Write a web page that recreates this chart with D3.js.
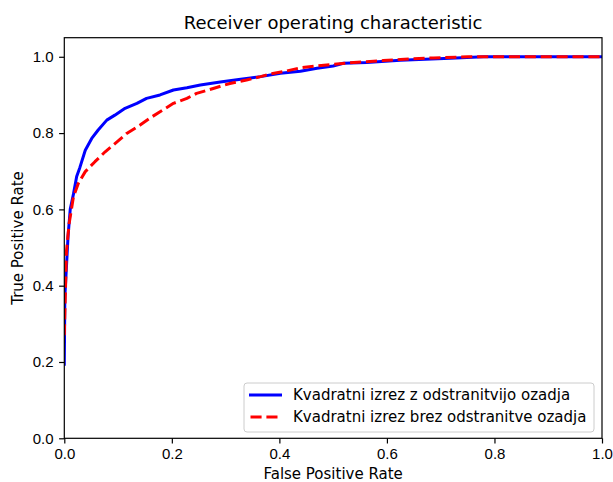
<!DOCTYPE html>
<meta charset="utf-8">
<style>

body {
  margin: 0;
  background: #fff;
}

svg {
  font-family: "DejaVu Sans", sans-serif;
}

.axis path,
.axis line {
  fill: none;
  stroke: #000;
  stroke-width: 1.2px;
}

.axis text {
  font-size: 15px;
  fill: #000;
}

.curve {
  fill: none;
  stroke-width: 3px;
  stroke-linejoin: round;
}

</style>
<body>
<script src="https://d3js.org/d3.v7.min.js"></script>
<script>

// ROC curve with background removal (blue, solid)
var blueFpr = [0, 0.001, 0.004, 0.007, 0.011, 0.017, 0.023, 0.029, 0.039, 0.051, 0.063, 0.079, 0.094, 0.113, 0.135, 0.153, 0.178, 0.203, 0.228, 0.253, 0.290, 0.328, 0.365, 0.402, 0.439, 0.470, 0.500, 0.519, 0.562, 0.625, 0.718, 0.78, 1.0];
var blueTpr = [0.19, 0.37, 0.45, 0.53, 0.60, 0.64, 0.686, 0.71, 0.755, 0.786, 0.808, 0.834, 0.847, 0.865, 0.878, 0.891, 0.900, 0.913, 0.919, 0.926, 0.934, 0.941, 0.948, 0.957, 0.962, 0.970, 0.976, 0.983, 0.985, 0.991, 0.996, 1.0, 1.0];

// ROC curve without background removal (red, dashed)
var redFpr = [0, 0.004, 0.009, 0.017, 0.026, 0.039, 0.057, 0.076, 0.098, 0.116, 0.141, 0.159, 0.178, 0.203, 0.228, 0.246, 0.277, 0.308, 0.339, 0.365, 0.383, 0.414, 0.442, 0.470, 0.500, 0.531, 0.562, 0.593, 0.625, 0.687, 0.75, 1.0];
var redTpr = [0.27, 0.49, 0.563, 0.633, 0.668, 0.699, 0.725, 0.751, 0.777, 0.799, 0.821, 0.839, 0.856, 0.878, 0.891, 0.904, 0.917, 0.930, 0.939, 0.948, 0.955, 0.963, 0.972, 0.976, 0.980, 0.984, 0.987, 0.990, 0.993, 0.997, 1.0, 1.0];

var seriesNames = ["Kvadratni izrez z odstranitvijo ozadja", "Kvadratni izrez brez odstranitve ozadja"];
var xTicks = [0, 0.2, 0.4, 0.6, 0.8, 1.0];
var yTicks = [0, 0.2, 0.4, 0.6, 0.8, 1.0];

var margin = {top: 37.7, right: 11, bottom: 43.7, left: 64.3},
    width = 613 - margin.left - margin.right,
    height = 482 - margin.top - margin.bottom;

var x = d3.scaleLinear().domain([0, 1]).range([0, width]);
var y = d3.scaleLinear().domain([0, 1.05]).range([height, 0]);

var svg = d3.select("body").append("svg")
    .attr("width", 613)
    .attr("height", 482);

var g = svg.append("g")
    .attr("transform", "translate(" + margin.left + "," + margin.top + ")");

var line = d3.line()
    .x(function(d) { return x(d[0]); })
    .y(function(d) { return y(d[1]); });

var blue = d3.zip(blueFpr, blueTpr),
    red = d3.zip(redFpr, redTpr);

g.append("defs").append("clipPath")
    .attr("id", "clip")
  .append("rect")
    .attr("width", width)
    .attr("height", height);

g.append("path")
    .datum(blue)
    .attr("class", "curve")
    .attr("clip-path", "url(#clip)")
    .attr("stroke", "#0000ff")
    .attr("d", line);

g.append("path")
    .datum(red)
    .attr("class", "curve")
    .attr("clip-path", "url(#clip)")
    .attr("stroke", "#ff0000")
    .attr("stroke-dasharray", "11.1,4.8")
    .attr("d", line);

// axes
g.append("g")
    .attr("class", "axis")
    .attr("transform", "translate(0," + height + ")")
    .call(d3.axisBottom(x).tickValues(xTicks).tickFormat(d3.format(".1f")).tickSize(5.2).tickPadding(4.8).tickSizeOuter(0));

g.append("g")
    .attr("class", "axis")
    .call(d3.axisLeft(y).tickValues(yTicks).tickFormat(d3.format(".1f")).tickSize(5.2).tickPadding(5.5).tickSizeOuter(0));

g.selectAll(".axis .domain").remove();

// frame
g.append("rect")
    .attr("width", width)
    .attr("height", height)
    .attr("fill", "none")
    .attr("stroke", "#000")
    .attr("stroke-width", 1.2);

// title & labels
svg.append("text")
    .attr("x", margin.left + width / 2)
    .attr("y", 29)
    .attr("text-anchor", "middle")
    .style("font-size", "18px")
    .text("Receiver operating characteristic");

svg.append("text")
    .attr("x", margin.left + width / 2)
    .attr("y", 478.5)
    .attr("text-anchor", "middle")
    .style("font-size", "15px")
    .text("False Positive Rate");

svg.append("text")
    .attr("transform", "translate(22.5," + (margin.top + height / 2) + ") rotate(-90)")
    .attr("text-anchor", "middle")
    .style("font-size", "15px")
    .text("True Positive Rate");

// legend
var legend = svg.append("g")
    .attr("transform", "translate(244,383)");

legend.append("rect")
    .attr("width", 350)
    .attr("height", 49)
    .attr("rx", 3)
    .attr("fill", "#fff")
    .attr("fill-opacity", 0.8)
    .attr("stroke", "#cccccc");

var items = legend.selectAll(".item")
    .data(seriesNames)
  .enter().append("g")
    .attr("class", "item")
    .attr("transform", function(d, i) { return "translate(0," + (12 + i * 22) + ")"; });

items.append("line")
    .attr("x1", 6.5)
    .attr("x2", 36.5)
    .attr("stroke", function(d, i) { return i ? "#ff0000" : "#0000ff"; })
    .attr("stroke-width", 3)
    .attr("stroke-linecap", function(d, i) { return i ? "butt" : "square"; })
    .attr("stroke-dasharray", function(d, i) { return i ? "11.1,4.8" : null; });

items.append("text")
    .attr("x", 49)
    .attr("dy", "0.35em")
    .style("font-size", "15px")
    .text(function(d) { return d; });

</script>
</body>
